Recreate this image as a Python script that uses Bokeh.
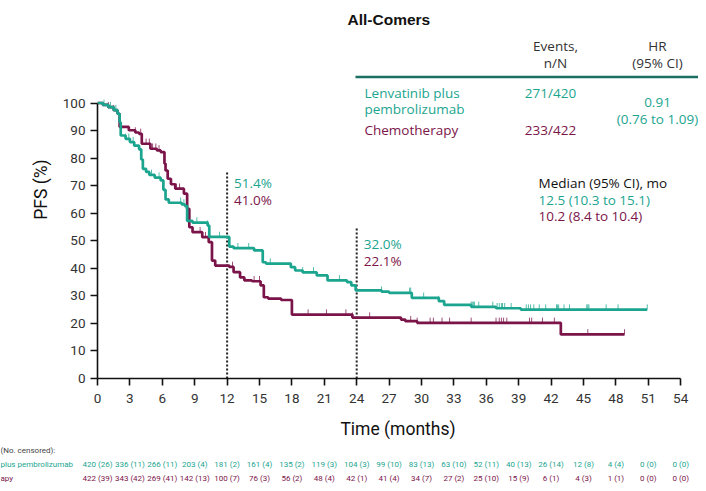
import numpy as np
from bokeh.plotting import figure
from bokeh.layouts import column
from bokeh.models import Range1d, Label, ColumnDataSource, SingleIntervalTicker
from bokeh.core.properties import value
from bokeh.embed import file_html
from bokeh.resources import INLINE

# ---------------- data ----------------
TEAL = "#1ba58f"
MAROON = "#7b1449"

# Lenvatinib plus pembrolizumab: step times (months) and PFS (%) after each step
lp_time = [0, 0.5, 1.0, 1.5, 1.85, 2.05, 2.15, 2.6, 3.0, 3.4, 3.85, 4.05, 4.2, 4.5, 4.8, 5.3,
           5.85, 6.1, 6.3, 6.6, 7.8, 8.1, 8.3, 8.8, 10.2, 10.35, 12.2, 12.6, 14.5, 15.3, 15.6,
           17.9, 18.3, 19.0, 20.3, 21.3, 23.1, 23.5, 23.9, 26.3, 27.0, 29.1, 31.6, 32.1, 34.6,
           36.9, 39.2, 50.9]
lp_pfs = [100, 99.3, 98.5, 97.4, 96.1, 93.0, 88.2, 87.0, 85.8, 84.5, 83.2, 79.5, 76.1, 75.0, 73.9, 72.9,
          71.9, 68.5, 65.0, 63.8, 63.2, 62.6, 57.2, 56.6, 55.5, 51.4, 47.9, 47.3, 46.5, 42.2, 41.7,
          40.4, 39.2, 38.5, 37.4, 35.6, 35.0, 33.8, 32.0, 31.5, 31.1, 29.3, 28.1, 26.7, 26.0,
          25.5, 25.0, 25.0]
lp_censor = [0.6, 1.2, 1.7, 2.6, 2.9, 3.3, 5.0, 5.7, 7.7, 8.0, 9.2, 10.2, 11.3, 13.0, 14.0, 16.0,
             19.0, 20.0, 22.4, 26.3, 28.9, 29.0, 29.1, 30.2, 31.6, 34.6, 34.7, 34.8, 34.9, 35.3,
             36.6, 37.0, 37.2, 37.4, 37.5, 37.7, 38.3, 39.7, 39.9, 40.1, 40.4, 40.9, 41.5, 42.5,
             42.6, 42.7, 43.2, 43.7, 45.3, 45.4, 45.5, 47.1, 48.2, 50.9]

# Chemotherapy
ch_time = [0, 0.5, 1.0, 1.5, 1.85, 2.05, 2.9, 3.5, 3.85, 4.1, 4.9, 5.5, 5.85, 6.2, 6.3, 6.5, 6.8,
           7.2, 8.0, 8.3, 8.5, 8.8, 9.7, 10.3, 10.6, 10.9, 12.2, 12.6, 13.2, 13.6, 14.3, 15.1,
           15.4, 15.8, 17.0, 18.0, 23.6, 28.1, 28.5, 29.6, 42.9, 48.8]
ch_pfs = [100, 99.3, 98.5, 97.4, 96.1, 91.3, 90.1, 89.3, 88.8, 85.2, 83.4, 82.8, 82.2, 78.0, 75.5, 72.5, 70.5,
          68.9, 67.1, 61.6, 54.9, 53.1, 51.3, 49.5, 42.8, 41.0, 40.5, 38.6, 36.7, 35.6, 35.3, 33.8,
          29.5, 29.0, 28.5, 23.2, 22.1, 21.4, 20.8, 20.2, 16.0, 16.0]
ch_censor = [1.0, 1.5, 3.5, 4.0, 4.5, 4.8, 5.1, 5.4, 5.7, 6.8, 7.3, 7.6, 8.0, 9.5, 10.0, 12.5, 13.2,
             14.5, 15.0, 19.5, 21.2, 23.0, 23.6, 25.2, 29.0, 29.6, 30.8, 31.1, 31.9, 32.6, 34.6,
             36.9, 37.2, 37.4, 37.6, 37.9, 40.0, 40.2, 41.2, 42.3, 45.4, 48.8]

# landmark estimates
landmark_months = [12, 24]
landmark_lp = ["51.4%", "32.0%"]
landmark_ch = ["41.0%", "22.1%"]

# numbers at risk (no. censored)
risk_months = list(range(0, 55, 3))
risk_lp = ["420 (26)", "336 (11)", "266 (11)", "203 (4)", "181 (2)", "161 (4)", "135 (2)", "119 (3)",
           "104 (3)", "99 (10)", "83 (13)", "63 (10)", "52 (11)", "40 (13)", "26 (14)", "12 (8)",
           "4 (4)", "0 (0)", "0 (0)"]
risk_ch = ["422 (39)", "343 (42)", "269 (41)", "142 (13)", "100 (7)", "76 (3)", "56 (2)", "48 (4)",
           "42 (1)", "41 (4)", "34 (7)", "27 (2)", "25 (10)", "15 (9)", "6 (1)", "4 (3)",
           "1 (1)", "0 (0)", "0 (0)"]
risk_row_labels = ["(No. censored):", "plus pembrolizumab", "apy"]

arm_lines = ["Lenvatinib plus", "pembrolizumab", "Chemotherapy"]
events = ["271/420", "233/422"]
hr_text = ["0.91", "(0.76 to 1.09)"]
median_head = "Median (95% CI), mo"
medians = ["12.5 (10.3 to 15.1)", "10.2 (8.4 to 10.4)"]

# ---------------- geometry ----------------
PX_M = 10.8      # px per month
PX_P = 2.755     # px per PFS %
X0, Y0 = 97, 378  # pixel position of (0 months, 0 %)
W = 698
HA = 441          # main panel height
HB = 483 - HA     # at-risk table height


def mx(xpx):
    return (xpx - X0) / PX_M


def py(ypx):
    return (Y0 - ypx) / PX_P


FONT = "Open Sans"
AXF = "Roboto"

p = figure(width=W, height=HA, output_backend="svg", toolbar_location=None,
           x_range=Range1d(0, mx(W)), y_range=Range1d(0, py(0)),
           min_border_left=X0, min_border_right=0, min_border_top=0, min_border_bottom=HA - Y0,
           title=None)
p.frame_align = False
p.outline_line_color = None
p.xgrid.visible = False
p.ygrid.visible = False

for ax in (p.xaxis[0], p.yaxis[0]):
    ax.axis_line_color = "#111111"
    ax.axis_line_width = 1.6
    ax.major_tick_line_color = "#111111"
    ax.major_tick_line_width = 1.6
    ax.major_tick_out = 7
    ax.major_tick_in = 0
    ax.minor_tick_line_color = None
    ax.major_label_text_font = AXF
    ax.major_label_text_font_size = "13.5px"
    ax.major_label_text_color = "#333333"
    ax.axis_label_text_font = AXF
    ax.axis_label_text_font_size = "17.5px"
    ax.axis_label_text_font_style = "normal"
    ax.axis_label_text_color = "#111111"

p.xaxis.bounds = (0, 54)
p.xaxis.ticker = SingleIntervalTicker(interval=3)
p.xaxis.axis_label = "Time (months)"
p.xaxis.major_label_standoff = 8
p.xaxis.axis_label_standoff = 13
p.yaxis.bounds = (0, 100)
p.yaxis.ticker = SingleIntervalTicker(interval=10)
p.yaxis.axis_label = "PFS (%)"
p.yaxis.major_label_standoff = 5
p.yaxis.axis_label_standoff = 9


def step_xy(t, s):
    xs, ys = [], []
    for i in range(len(t)):
        if i > 0:
            xs.append(t[i]); ys.append(s[i - 1])
        xs.append(t[i]); ys.append(s[i])
    return xs, ys


def value_at(t, s, c):
    idx = np.searchsorted(np.array(t), np.array(c), side="right") - 1
    return np.array(s)[np.clip(idx, 0, len(s) - 1)]


# dotted landmark lines
lm_top = [py(172), py(226)]
p.segment(x0=landmark_months, y0=[0, 0], x1=landmark_months, y1=lm_top,
          line_color="#222222", line_width=2, line_dash="2 2")

for t, s, c, col in ((ch_time, ch_pfs, ch_censor, MAROON), (lp_time, lp_pfs, lp_censor, TEAL)):
    xs, ys = step_xy(t, s)
    p.line(xs, ys, line_color=col, line_width=2.7)
    cv = value_at(t, s, c)
    p.segment(x0=c, y0=cv, x1=c, y1=cv + 1.9, line_color=col, line_width=1, line_alpha=0.75)


def lab(xpx, ypx, txt, color, size="13.5px", align="left", font=FONT, style="normal"):
    p.add_layout(Label(x=mx(xpx), y=py(ypx), text=txt, text_color=color,
                       text_font=font, text_font_size=size, text_align=align,
                       text_baseline="middle", text_font_style=style))


# landmark labels
for m, a, b, ypx in ((12, landmark_lp[0], landmark_ch[0], 182), (24, landmark_lp[1], landmark_ch[1], 243)):
    lab(X0 + m * PX_M + 7, ypx, a, TEAL)
    lab(X0 + m * PX_M + 7, ypx + 17, b, MAROON)

# legend table
lab(347, 19, "All-Comers", "#111111", size="15.5px", font="Liberation Sans", style="bold")
lab(555, 45, "Events,", "#333333", align="center")
lab(555, 62, "n/N", "#333333", align="center")
lab(657, 45, "HR", "#333333", align="center")
lab(657, 62, "(95% CI)", "#333333", align="center")
p.segment(x0=[mx(355)], y0=[py(76.5)], x1=[mx(W)], y1=[py(76.5)], line_color="#1b6f62",
          line_width=2.6)
lab(364, 92, arm_lines[0], TEAL)
lab(364, 108.5, arm_lines[1], TEAL)
lab(364, 129, arm_lines[2], MAROON)
lab(550, 92, events[0], TEAL, align="center")
lab(550, 129, events[1], MAROON, align="center")
lab(657, 102, hr_text[0], TEAL, align="center")
lab(657, 118.5, hr_text[1], TEAL, align="center")
lab(538, 182, median_head, "#111111")
lab(538, 199, medians[0], TEAL)
lab(538, 215.5, medians[1], MAROON)

# ---------------- numbers at risk table ----------------
q = figure(width=W, height=HB, output_backend="svg", toolbar_location=None,
           x_range=Range1d(mx(0), mx(W)), y_range=Range1d(483, HA),
           min_border_left=0, min_border_right=0, min_border_top=0, min_border_bottom=0,
           x_axis_location=None, y_axis_location=None, title=None)
q.frame_align = False
q.outline_line_color = None
q.xgrid.visible = False
q.ygrid.visible = False

TF = value("Roboto")
row_y = [450, 463.5, 477.5]
for vals, yy, col in ((risk_lp, row_y[1], TEAL), (risk_ch, row_y[2], MAROON)):
    src = ColumnDataSource(dict(x=risk_months, y=[yy] * len(vals), t=vals))
    q.text(x="x", y="y", text="t", source=src, text_align="center", text_baseline="middle",
           text_font=TF, text_font_size="8px", text_color=col)
src_l = ColumnDataSource(dict(x=[mx(0)] * 3, y=row_y, t=risk_row_labels,
                              c=["#444444", TEAL, MAROON]))
q.text(x="x", y="y", text="t", source=src_l, text_align="left", text_baseline="middle",
       text_font=TF, text_font_size="8px", text_color="c")

layout = column(p, q, spacing=0)
open("out.html", "w").write(file_html(layout, INLINE))
